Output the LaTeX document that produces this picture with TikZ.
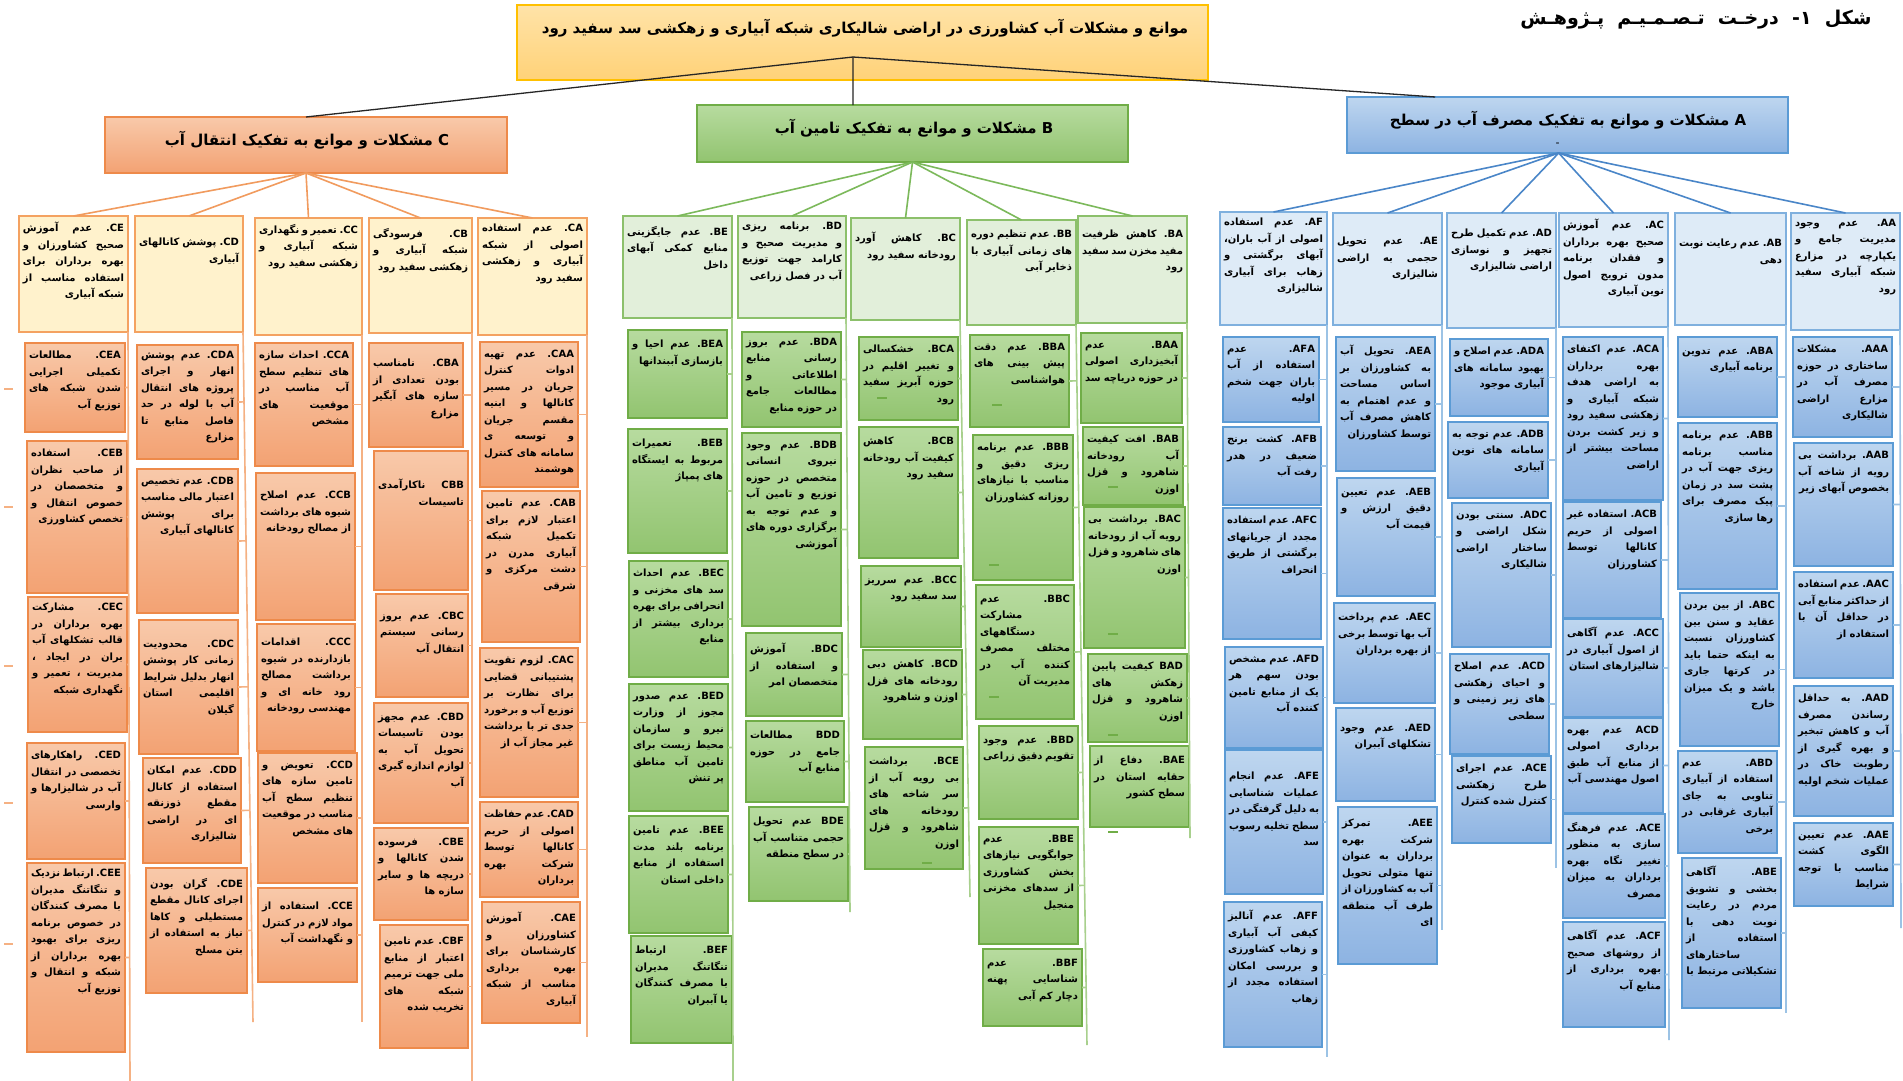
\documentclass[tikz,border=0pt]{standalone}
\usepackage{fontspec}
\usetikzlibrary{calc}
\newfontfamily\fafont[Script=Arabic]{DejaVu Sans}
\TeXXeTstate=1
\definecolor{orBorder}{HTML}{EE8A4A}
\definecolor{orTop}{HTML}{F8C9AA}
\definecolor{orBot}{HTML}{F3A273}
\definecolor{orLight}{HTML}{FFF2CC}
\definecolor{orHead}{HTML}{F4A261}
\definecolor{orFan}{HTML}{F19B5E}
\definecolor{orSpine}{HTML}{F5B183}
\definecolor{grBorder}{HTML}{70AD47}
\definecolor{grTop}{HTML}{B7DB9F}
\definecolor{grBot}{HTML}{92C470}
\definecolor{grLight}{HTML}{E2EFDA}
\definecolor{grHead}{HTML}{8CC06B}
\definecolor{grFan}{HTML}{7CB95B}
\definecolor{grSpine}{HTML}{A8D08D}
\definecolor{blBorder}{HTML}{5B9BD5}
\definecolor{blTop}{HTML}{BED6EF}
\definecolor{blBot}{HTML}{8DB3E2}
\definecolor{blLight}{HTML}{DEEBF7}
\definecolor{blHead}{HTML}{7FB0DE}
\definecolor{blFan}{HTML}{4A86C8}
\definecolor{blSpine}{HTML}{9CC3E5}
\definecolor{rtTop}{HTML}{FFE3A8}
\definecolor{rtBot}{HTML}{FFD278}
\definecolor{rtBorder}{HTML}{FFC000}
\newcommand\Lc[1]{\beginL #1\endL}
\newcommand\ff{\hskip 0pt plus 1fil}
\newcommand\bxtext[4]{\parbox[c][#2][t]{#1}{\vspace*{#3pt}\fafont\bfseries\fontsize{10}{16.5}\selectfont
 \tolerance=9999 \emergencystretch=3em \hbadness=10000 \parfillskip=0pt \leftskip=0pt \rightskip=0pt
 \noindent #4\par}}
\newcommand\bx[8]{\node[#1, anchor=north west, inner sep=4pt, outer sep=0pt] (#2) at (#3,#4)
 {\bxtext{\dimexpr #5pt-#3pt-8pt\relax}{\dimexpr #6pt-#4pt-8pt\relax}{#7}{#8}};}
\tikzset{
 rootbox/.style={draw=rtBorder, line width=1.6pt, top color=rtTop, bottom color=rtBot},
 ccat/.style={draw=orBorder, line width=1.6pt, top color=orTop, bottom color=orBot},
 bcat/.style={draw=grBorder, line width=1.6pt, top color=grTop, bottom color=grBot},
 acat/.style={draw=blBorder, line width=1.6pt, top color=blTop, bottom color=blBot},
 chead/.style={draw=orHead, line width=1.4pt, fill=orLight},
 bhead/.style={draw=grHead, line width=1.4pt, fill=grLight},
 ahead/.style={draw=blHead, line width=1.4pt, fill=blLight},
 cch/.style={draw=orBorder, line width=1.6pt, top color=orTop, bottom color=orBot},
 bch/.style={draw=grBorder, line width=1.6pt, top color=grTop, bottom color=grBot},
 ach/.style={draw=blBorder, line width=1.6pt, top color=blTop, bottom color=blBot},
 rootline/.style={draw=black!85, line width=1.3pt},
 cfan/.style={draw=orFan, line width=1.6pt},
 bfan/.style={draw=grFan, line width=1.6pt},
 afan/.style={draw=blFan, line width=1.6pt},
 cspine/.style={draw=orSpine, line width=1.6pt},
 bspine/.style={draw=grSpine, line width=1.6pt},
 aspine/.style={draw=blSpine, line width=1.6pt},
 gmark/.style={draw=grBorder, line width=1.2pt},
 cattxt/.style={font=\fafont\bfseries\fontsize{15}{18}\selectfont, inner sep=0pt},
}
\begin{document}
\begin{tikzpicture}[x=1pt,y=-1pt]
\fill[white] (0,0) rectangle (1903,1081);
\useasboundingbox (0,0) rectangle (1903,1081);
% caption
\node[font=\fafont\bfseries\fontsize{19}{22}\selectfont, inner sep=0pt] (cap) at (1696,20) {\beginR شکل\ \ ۱-\ \ درخـت\ \ تـصـمـیـم\ \ پـژوهـش\endR};
% root
\node[rootbox, anchor=north west, minimum width=691pt, minimum height=75pt, inner sep=0pt, outer sep=0pt] (root) at (517,5) {};
\node[cattxt, font=\fafont\bfseries\fontsize{15}{18}\selectfont] (roottxt) at (865,28) {\beginR موانع و مشکلات آب کشاورزی در اراضی شالیکاری شبکه آبیاری و زهکشی سد سفید رود\endR};
\coordinate (rj) at (853,57);
% categories
\node[ccat, anchor=north west, minimum width=402pt, minimum height=56pt, inner sep=0pt, outer sep=0pt] (C) at (105,117) {};
\node[cattxt] (Ctxt) at (307,140) {\beginR\Lc{C} مشکلات و موانع به تفکیک انتقال آب\endR};
\node[bcat, anchor=north west, minimum width=431pt, minimum height=57pt, inner sep=0pt, outer sep=0pt] (B) at (697,105) {};
\node[cattxt] (Btxt) at (914,128) {\beginR\Lc{B} مشکلات و موانع به تفکیک تامین آب\endR};
\node[acat, anchor=north west, minimum width=441pt, minimum height=56pt, inner sep=0pt, outer sep=0pt] (A) at (1347,97) {};
\node[cattxt] (Atxt) at (1568,120) {\beginR\Lc{A} مشکلات و موانع به تفکیک مصرف آب در سطح\endR};
\node[font=\bfseries\small, inner sep=0pt] (Adash) at (1558,144) {-};
% C headers
\bx{chead}{CE}{19}{216}{128}{332}{2}{\beginR\Lc{CE}. عدم آموزش صحیح کشاورزان و بهره برداران برای استفاده مناسب از شبکه آبیاری\ff\endR}
\bx{chead}{CD}{135}{216}{243}{332}{18}{\beginR\Lc{CD}. پوشش کانالهای آبیاری\ff\endR}
\bx{chead}{CC}{255}{218}{362}{335}{2}{\beginR\Lc{CC}. تعمیر و نگهداری شبکه آبیاری و زهکشی سفید رود\ff\endR}
\bx{chead}{CB}{369}{218}{472}{333}{6}{\beginR\Lc{CB}. فرسودگی شبکه آبیاری و زهکشی سفید رود\ff\endR}
\bx{chead}{CA}{478}{218}{587}{335}{2}{\beginR\Lc{CA}. عدم استفاده اصولی از شبکه آبیاری و زهکشی سفید رود\ff\endR}
% B headers
\bx{bhead}{BE}{623}{216}{732}{318}{6}{\beginR\Lc{BE}. عدم جایگزینی منابع کمکی آبهای داخل\ff\endR}
\bx{bhead}{BD}{738}{216}{846}{318}{2}{\beginR\Lc{BD}. برنامه ریزی و مدیریت صحیح و کارامد جهت توزیع آب در فصل زراعی\ff\endR}
\bx{bhead}{BC}{851}{218}{960}{320}{10}{\beginR\Lc{BC}. کاهش آورد رودخانه سفید رود\ff\endR}
\bx{bhead}{BB}{967}{220}{1076}{325}{6}{\beginR\Lc{BB}. عدم تنظیم دوره های زمانی آبیاری با ذخایر آبی\ff\endR}
\bx{bhead}{BA}{1078}{216}{1187}{323}{10}{\beginR\Lc{BA}. کاهش ظرفیت مفید مخزن سد سفید رود\ff\endR}
% A headers
\bx{ahead}{AF}{1220}{212}{1327}{325}{2}{\beginR\Lc{AF}. عدم استفاده اصولی از آب باران، آبهای برگشتی و زهاب برای آبیاری شالیزاری\ff\endR}
\bx{ahead}{AE}{1333}{213}{1442}{325}{20}{\beginR\Lc{AE}. عدم تحویل حجمی به اراضی شالیزاری\ff\endR}
\bx{ahead}{AD}{1447}{213}{1556}{328}{12}{\beginR\Lc{AD}. عدم تکمیل طرح تجهیز و نوسازی اراضی شالیزاری\ff\endR}
\bx{ahead}{AC}{1559}{213}{1668}{327}{2}{\beginR\Lc{AC}. عدم آموزش صحیح بهره برداران و فقدان برنامه مدون ترویج اصول نوین آبیاری\ff\endR}
\bx{ahead}{AB}{1675}{213}{1786}{325}{22}{\beginR\Lc{AB}. عدم رعایت نوبت دهی\ff\endR}
\bx{ahead}{AA}{1791}{213}{1900}{330}{2}{\beginR\Lc{AA}. عدم وجود مدیریت جامع و یکپارچه در مزارع شبکه آبیاری سفید رود\ff\endR}
% CE children
\bx{cch}{CEA}{25}{343}{125}{432}{4}{\beginR\Lc{CEA}. مطالعات تکمیلی اجرایی شدن شبکه های توزیع آب\ff\endR}
\bx{cch}{CEB}{27}{441}{127}{593}{4}{\beginR\Lc{CEB}. استفاده از صاحب نظران و متخصصان در خصوص انتقال و تخصص کشاورزی\ff\endR}
\bx{cch}{CEC}{28}{597}{127}{732}{2}{\beginR\Lc{CEC}. مشارکت بهره برداران در قالب تشکلهای آب بران در ایجاد ، مدیریت ، تعمیر و نگهداری شبکه\ff\endR}
\bx{cch}{CED}{27}{743}{125}{859}{4}{\beginR\Lc{CED}. راهکارهای تخصصی در انتقال آب در شالیزارها و وارسی\ff\endR}
\bx{cch}{CEE}{27}{863}{125}{1052}{2}{\beginR\Lc{CEE}. ارتباط نزدیک و تنگاتنگ مدیران با مصرف کنندگان در خصوص برنامه ریزی برای بهبود بهره برداران از شبکه و انتقال و توزیع آب\ff\endR}
% CD children
\bx{cch}{CDA}{137}{345}{238}{459}{2}{\beginR\Lc{CDA}. عدم پوشش انهار و اجرای پروژه های انتقال آب با لوله در حد فاصل منابع تا مزارع\ff\endR}
\bx{cch}{CDB}{137}{469}{238}{613}{4}{\beginR\Lc{CDB}. عدم تخصیص اعتبار مالی مناسب برای پوشش کانالهای آبیاری\ff\endR}
\bx{cch}{CDC}{139}{620}{238}{754}{16}{\beginR\Lc{CDC}. محدودیت زمانی کار پوشش انهار بدلیل شرایط اقلیمی استان گیلان\ff\endR}
\bx{cch}{CDD}{143}{758}{241}{863}{4}{\beginR\Lc{CDD}. عدم امکان استفاده از کانال مقطع ذوزنقه ای در اراضی شالیزاری\ff\endR}
\bx{cch}{CDE}{146}{868}{247}{993}{6}{\beginR\Lc{CDE}. گران بودن اجرای کانال مقطع مستطیلی و کاها نیاز به استفاده از بتن مسلح\ff\endR}
% CC children
\bx{cch}{CCA}{255}{343}{353}{466}{4}{\beginR\Lc{CCA}. احداث سازه های تنظیم سطح آب مناسب در موقعیت های مشخص\ff\endR}
\bx{cch}{CCB}{256}{473}{355}{620}{14}{\beginR\Lc{CCB}. عدم اصلاح شیوه های برداشت از مصالح رودخانه\ff\endR}
\bx{cch}{CCC}{257}{624}{355}{751}{10}{\beginR\Lc{CCC}. اقدامات بازدارنده در شیوه برداشت مصالح رود خانه ای و مهندسی رودخانه\ff\endR}
\bx{cch}{CCD}{258}{753}{357}{883}{4}{\beginR\Lc{CCD}. تعویض و تامین سازه های تنظیم سطح آب مناسب در موقعیت های مشخص\ff\endR}
\bx{cch}{CCE}{258}{888}{357}{982}{10}{\beginR\Lc{CCE}. استفاده از مواد لازم در کنترل و نگهداشت آب\ff\endR}
% CB children
\bx{cch}{CBA}{369}{343}{463}{447}{12}{\beginR\Lc{CBA}. نامناسب بودن تعدادی از سازه های آبگیر مزارع\ff\endR}
\bx{cch}{CBB}{374}{451}{468}{590}{24}{\beginR\Lc{CBB} ناکارآمدی تاسیسات\ff\endR}
\bx{cch}{CBC}{376}{594}{468}{697}{14}{\beginR\Lc{CBC}. عدم بروز رسانی سیستم انتقال آب\ff\endR}
\bx{cch}{CBD}{374}{703}{468}{823}{6}{\beginR\Lc{CBD}. عدم مجهز بودن تاسیسات تحویل آب به لوازم اندازه گیری آب\ff\endR}
\bx{cch}{CBE}{374}{828}{468}{920}{6}{\beginR\Lc{CBE}. فرسوده شدن کانالها و دریچه ها و سایر سازه ها\ff\endR}
\bx{cch}{CBF}{380}{925}{468}{1048}{8}{\beginR\Lc{CBF}. عدم تامین اعتبار از منابع ملی جهت ترمیم شبکه های تخریب شده\ff\endR}
% CA children
\bx{cch}{CAA}{480}{342}{578}{487}{4}{\beginR\Lc{CAA}. عدم تهیه ادوات کنترل جریان در مسیر کانالها و ابنیه مقسم جریان و توسعه ی سامانه های کنترل هوشمند\ff\endR}
\bx{cch}{CAB}{482}{491}{580}{642}{4}{\beginR\Lc{CAB}. عدم تامین اعتبار لازم برای تکمیل شبکه آبیاری مدرن در دشت مرکزی و شرقی\ff\endR}
\bx{cch}{CAC}{480}{648}{578}{797}{4}{\beginR\Lc{CAC}. لزوم تقویت پشتیبانی قضایی برای نظارت بر توزیع آب و برخورد جدی تر با برداشت غیر مجاز آب از\ff\endR}
\bx{cch}{CAD}{480}{802}{578}{897}{4}{\beginR\Lc{CAD}. عدم حفاظت اصولی از حریم کانالها توسط شرکت بهره برداران\ff\endR}
\bx{cch}{CAE}{482}{902}{580}{1023}{6}{\beginR\Lc{CAE}. آموزش کشاورزان و کارشناسان برای بهره برداری مناسب از شبکه آبیاری\ff\endR}
% BE children
\bx{bch}{BEA}{628}{330}{727}{418}{6}{\beginR\Lc{BEA}. عدم احیا و بازسازی آببندانها\ff\endR}
\bx{bch}{BEB}{628}{429}{727}{553}{6}{\beginR\Lc{BEB}. تعمیرات مربوط به ایستگاه های پمپاژ\ff\endR}
\bx{bch}{BEC}{629}{561}{728}{677}{4}{\beginR\Lc{BEC}. عدم احداث سد های مخزنی و انحرافی برای بهره برداری بیشتر از منابع\ff\endR}
\bx{bch}{BED}{629}{684}{728}{811}{4}{\beginR\Lc{BED}. عدم صدور مجوز از وزارت نیرو و سازمان محیط زیست برای تامین آب مناطق پر تنش\ff\endR}
\bx{bch}{BEE}{629}{816}{728}{933}{6}{\beginR\Lc{BEE}. عدم تامین برنامه بلند مدت استفاده از منابع داخلی استان\ff\endR}
\bx{bch}{BEF}{631}{936}{732}{1043}{6}{\beginR\Lc{BEF}. ارتباط تنگاتنگ مدیران با مصرف کنندگان یا آببران\ff\endR}
% BD children
\bx{bch}{BDA}{742}{332}{841}{427}{2}{\beginR\Lc{BDA}. عدم بروز رسانی منابع اطلاعاتی و مطالعات جامع در حوزه منابع\ff\endR}
\bx{bch}{BDB}{742}{433}{841}{626}{4}{\beginR\Lc{BDB}. عدم وجود نیروی انسانی متخصص در حوزه توزیع و تامین آب و عدم توجه به برگزاری دوره های آموزشی\ff\endR}
\bx{bch}{BDC}{746}{633}{842}{716}{6}{\beginR\Lc{BDC}. آموزش و استفاده از متخصصان امر\ff\endR}
\bx{bch}{BDD}{746}{721}{844}{802}{6}{\beginR\Lc{BDD} مطالعات جامع در حوزه منابع آب\ff\endR}
\bx{bch}{BDE}{749}{807}{848}{901}{6}{\beginR\Lc{BDE} عدم تحویل حجمی متناسب آب در سطح منطقه\ff\endR}
% BC children
\bx{bch}{BCA}{859}{337}{958}{420}{4}{\beginR\Lc{BCA}. خشکسالی و تغییر اقلیم در حوزه آبریز سفید رود\ff\endR}
\bx{bch}{BCB}{859}{427}{958}{558}{6}{\beginR\Lc{BCB}. کاهش کیفیت آب رودخانه سفید رود\ff\endR}
\bx{bch}{BCC}{861}{566}{961}{647}{6}{\beginR\Lc{BCC}. عدم سرریز سد سفید رود\ff\endR}
\bx{bch}{BCD}{863}{650}{962}{739}{6}{\beginR\Lc{BCD}. کاهش دبی رودخانه های قزل اوزن و شاهرود\ff\endR}
\bx{bch}{BCE}{865}{747}{963}{869}{6}{\beginR\Lc{BCE}. برداشت بی رویه آب از سر شاخه های رودخانه های شاهرود و قزل اوزن\ff\endR}
% BB children
\bx{bch}{BBA}{970}{335}{1069}{427}{4}{\beginR\Lc{BBA}. عدم دقت پیش بینی های هواشناسی\ff\endR}
\bx{bch}{BBB}{973}{435}{1073}{580}{4}{\beginR\Lc{BBB}. عدم برنامه ریزی دقیق و مناسب با نیازهای روزانه کشاورزان\ff\endR}
\bx{bch}{BBC}{976}{585}{1074}{719}{6}{\beginR\Lc{BBC}. عدم مشارکت دستگاههای مختلف مصرف کننده آب در مدیریت آن\ff\endR}
\bx{bch}{BBD}{979}{726}{1078}{819}{6}{\beginR\Lc{BBD}. عدم وجود تقویم دقیق زراعی\ff\endR}
\bx{bch}{BBE}{979}{827}{1078}{944}{4}{\beginR\Lc{BBE}. عدم جوابگویی نیازهای بخش کشاورزی از سدهای مخزنی منجیل\ff\endR}
\bx{bch}{BBF}{983}{949}{1082}{1026}{6}{\beginR\Lc{BBF}. عدم شناسایی پهنه دچار کم آبی\ff\endR}
% BA children
\bx{bch}{BAA}{1081}{333}{1182}{423}{4}{\beginR\Lc{BAA}. عدم آبخیزداری اصولی در حوزه دریاچه سد\ff\endR}
\bx{bch}{BAB}{1083}{427}{1183}{505}{4}{\beginR\Lc{BAB}. افت کیفیت آب رودخانه شاهرود و قزل اوزن\ff\endR}
\bx{bch}{BAC}{1084}{507}{1185}{648}{4}{\beginR\Lc{BAC}. برداشت بی رویه آب از رودخانه های شاهرود و قزل اوزن\ff\endR}
\bx{bch}{BAD}{1088}{654}{1187}{742}{4}{\beginR\Lc{BAD} کیفیت پایین زهکش های شاهرود و قزل اوزن\ff\endR}
\bx{bch}{BAE}{1090}{746}{1189}{827}{6}{\beginR\Lc{BAE}. دفاع از حقابه استان در سطح کشور\ff\endR}
% AF children
\bx{ach}{AFA}{1223}{337}{1319}{422}{4}{\beginR\Lc{AFA}. عدم استفاده از آب باران جهت شخم اولیه\ff\endR}
\bx{ach}{AFB}{1223}{427}{1321}{505}{4}{\beginR\Lc{AFB}. کشت برنج ضعیف در هدر رفت آب\ff\endR}
\bx{ach}{AFC}{1223}{508}{1321}{639}{4}{\beginR\Lc{AFC}. عدم استفاده مجدد از جریانهای برگشتی از طریق انحراف\ff\endR}
\bx{ach}{AFD}{1225}{647}{1323}{748}{4}{\beginR\Lc{AFD}. عدم مشخص بودن سهم هر یک از منابع تامین کننده آب\ff\endR}
\bx{ach}{AFE}{1225}{750}{1323}{894}{18}{\beginR\Lc{AFE}. عدم انجام عملیات شناسایی به دلیل گرفتگی در سطح تخلیه رسوب سد\ff\endR}
\bx{ach}{AFF}{1224}{902}{1322}{1047}{4}{\beginR\Lc{AFF}. عدم آنالیز کیفی آب آبیاری و زهاب کشاورزی و بررسی امکان استفاده مجدد از زهاب\ff\endR}
% AE children
\bx{ach}{AEA}{1336}{337}{1435}{471}{4}{\beginR\Lc{AEA}. تحویل آب به کشاورزان بر اساس مساحت و عدم اهتمام به کاهش مصرف آب توسط کشاورزان\ff\endR}
\bx{ach}{AEB}{1337}{478}{1435}{596}{6}{\beginR\Lc{AEB}. عدم تعیین دقیق ارزش و قیمت آب\ff\endR}
\bx{ach}{AEC}{1334}{603}{1435}{703}{6}{\beginR\Lc{AEC}. عدم پرداخت آب بها توسط برخی از بهره برداران\ff\endR}
\bx{ach}{AED}{1336}{708}{1435}{801}{12}{\beginR\Lc{AED}. عدم وجود تشکلهای آببران\ff\endR}
\bx{ach}{AEE}{1338}{807}{1437}{964}{8}{\beginR\Lc{AEE}. تمرکز شرکت بهره برداران به عنوان تنها متولی تحویل آب به کشاورزان از طرف آب منطقه ای\ff\endR}
% AD children
\bx{ach}{ADA}{1450}{339}{1548}{416}{4}{\beginR\Lc{ADA}. عدم اصلاح و بهبود سامانه های آبیاری موجود\ff\endR}
\bx{ach}{ADB}{1448}{422}{1548}{498}{4}{\beginR\Lc{ADB}. عدم توجه به سامانه های نوین آبیاری\ff\endR}
\bx{ach}{ADC}{1452}{503}{1551}{647}{4}{\beginR\Lc{ADC}. سنتی بودن شکل اراضی و ساختار اراضی شالیکاری\ff\endR}
\bx{ach}{ADd}{1450}{654}{1549}{754}{4}{\beginR\Lc{ACD}. عدم اصلاح و احیای زهکشی های زیر زمینی و سطحی\ff\endR}
\bx{ach}{ADe}{1452}{756}{1551}{843}{4}{\beginR\Lc{ACE}. عدم اجرای طرح زهکشی کنترل شده کنترل\ff\endR}
% AC children
\bx{ach}{ACA}{1563}{337}{1663}{500}{4}{\beginR\Lc{ACA}. عدم اکتفای بهره برداران به اراضی هدف شبکه آبیاری و زهکشی سفید رود و زیر کشت بردن مساحت بیشتر از اراضی\ff\endR}
\bx{ach}{ACB}{1563}{502}{1661}{618}{4}{\beginR\Lc{ACB}. استفاده غیر اصولی از حریم کانالها توسط کشاورزان\ff\endR}
\bx{ach}{ACC}{1563}{619}{1663}{717}{4}{\beginR\Lc{ACC}. عدم آگاهی از اصول آبیاری در شالیزارهای استان\ff\endR}
\bx{ach}{ACD}{1563}{718}{1663}{813}{4}{\beginR\Lc{ACD} عدم بهره برداری اصولی از منابع آب طبق اصول مهندسی آب\ff\endR}
\bx{ach}{ACE}{1563}{814}{1665}{918}{4}{\beginR\Lc{ACE}. عدم فرهنگ سازی به منظور تغییر نگاه بهره برداران به میزان مصرف\ff\endR}
\bx{ach}{ACF}{1563}{922}{1665}{1027}{4}{\beginR\Lc{ACF}. عدم آگاهی از روشهای صحیح بهره برداری از منابع آب\ff\endR}
% AB children
\bx{ach}{ABA}{1678}{337}{1777}{417}{6}{\beginR\Lc{ABA}. عدم تدوین برنامه آبیاری\ff\endR}
\bx{ach}{ABB}{1678}{423}{1777}{589}{4}{\beginR\Lc{ABB}. عدم برنامه مناسب برنامه ریزی جهت آب در پشت سد در زمان پیک مصرف برای رها سازی\ff\endR}
\bx{ach}{ABC}{1680}{593}{1779}{746}{4}{\beginR\Lc{ABC}. از بین بردن عقاید و سنن بین کشاورزان نسبت به اینکه حتما باید در کرتها جاری باشد و یک میزان خارج\ff\endR}
\bx{ach}{ABD}{1678}{751}{1777}{853}{4}{\beginR\Lc{ABD}. عدم استفاده از آبیاری تناوبی به جای آبیاری غرقابی در برخی\ff\endR}
\bx{ach}{ABE}{1682}{858}{1781}{1008}{4}{\beginR\Lc{ABE}. آگاهی بخشی و تشویق مردم در رعایت نوبت دهی با استفاده از ساختارهای تشکیلاتی مرتبط با\ff\endR}
% AA children
\bx{ach}{AAA}{1793}{337}{1892}{437}{4}{\beginR\Lc{AAA}. مشکلات ساختاری در حوزه مصرف آب در مزارع اراضی شالیکاری\ff\endR}
\bx{ach}{AAB}{1794}{443}{1893}{566}{4}{\beginR\Lc{AAB}. برداشت بی رویه از شاخه آب بخصوص آبهای زیر\ff\endR}
\bx{ach}{AAC}{1794}{572}{1893}{678}{4}{\beginR\Lc{AAC}. عدم استفاده از حداکثر منابع آبی در حداقل آن با استفاده از\ff\endR}
\bx{ach}{AAD}{1794}{686}{1893}{816}{4}{\beginR\Lc{AAD}. به حداقل رساندن مصرف آب و کاهش تبخیر و بهره گیری از رطوبت خاک در عملیات شخم اولیه\ff\endR}
\bx{ach}{AAE}{1794}{823}{1893}{906}{4}{\beginR\Lc{AAE}. عدم تعیین الگوی کشت مناسب با توجه شرایط\ff\endR}
% root connectors
\draw[rootline] (rj) -- (C.north);
\draw[rootline] (rj) -- ($(B.north west)!0.362!(B.north east)$);
\draw[rootline] (rj) -- ($(A.north west)!0.2!(A.north east)$);
% category fans
\foreach \h in {CE,CD,CC,CB,CA} \draw[cfan] (C.south) -- (\h.north);
\foreach \h in {BE,BD,BC,BB,BA} \draw[bfan] (B.south) -- (\h.north);
\foreach \h in {AF,AE,AD,AC,AB,AA} \draw[afan] ($(A.south west)!0.48!(A.south east)$) -- (\h.north);
% spine bottoms
\coordinate (CEbot) at (130,1081);
\coordinate (CDbot) at (253,1022);
\coordinate (CCbot) at (362,1022);
\coordinate (CBbot) at (472,1081);
\coordinate (CAbot) at (587,1037);
\coordinate (BEbot) at (733,1081);
\coordinate (BDbot) at (850,912);
\coordinate (BCbot) at (970,897);
\coordinate (BBbot) at (1087,1045);
\coordinate (BAbot) at (1190,838);
\coordinate (AFbot) at (1327,1057);
\coordinate (AEbot) at (1442,930);
\coordinate (ADbot) at (1556,868);
\coordinate (ACbot) at (1669,1040);
\coordinate (ABbot) at (1786,1013);
\coordinate (AAbot) at (1901,928);
% spines and ticks
\newcommand\spine[3]{\draw[#1] (#2.south east) -- (#2bot);
 \foreach \n in {#3} \draw[#1] (\n.east) -- ($(#2.south east)!(\n.east)!(#2bot)$);}
\spine{cspine}{CE}{CEA,CEB,CEC,CED,CEE}
\spine{cspine}{CD}{CDA,CDB,CDC,CDD,CDE}
\spine{cspine}{CC}{CCA,CCB,CCC,CCD,CCE}
\spine{cspine}{CB}{CBA,CBB,CBC,CBD,CBE,CBF}
\spine{cspine}{CA}{CAA,CAB,CAC,CAD,CAE}
\spine{bspine}{BE}{BEA,BEB,BEC,BED,BEE,BEF}
\spine{bspine}{BD}{BDA,BDB,BDC,BDD,BDE}
\spine{bspine}{BC}{BCA,BCB,BCC,BCD,BCE}
\spine{bspine}{BB}{BBA,BBB,BBC,BBD,BBE,BBF}
\spine{bspine}{BA}{BAA,BAB,BAC,BAD,BAE}
\spine{aspine}{AF}{AFA,AFB,AFC,AFD,AFE,AFF}
\spine{aspine}{AE}{AEA,AEB,AEC,AED,AEE}
\spine{aspine}{AD}{ADA,ADB,ADC,ADd,ADe}
\spine{aspine}{AC}{ACA,ACB,ACC,ACD,ACE,ACF}
\spine{aspine}{AB}{ABA,ABB,ABC,ABD,ABE}
\spine{aspine}{AA}{AAA,AAB,AAC,AAD,AAE}
% stray marks
\foreach \y in {389,507,666,803,944} \draw[cspine] (4,\y) -- (13,\y);
\foreach \p in {(877,398),(992,405),(1108,487),(989,565),(989,697),(1108,634),(1108,735),(1108,832),(922,863)}
 \draw[gmark] \p -- ++(10,0);
\end{tikzpicture}
\end{document}
